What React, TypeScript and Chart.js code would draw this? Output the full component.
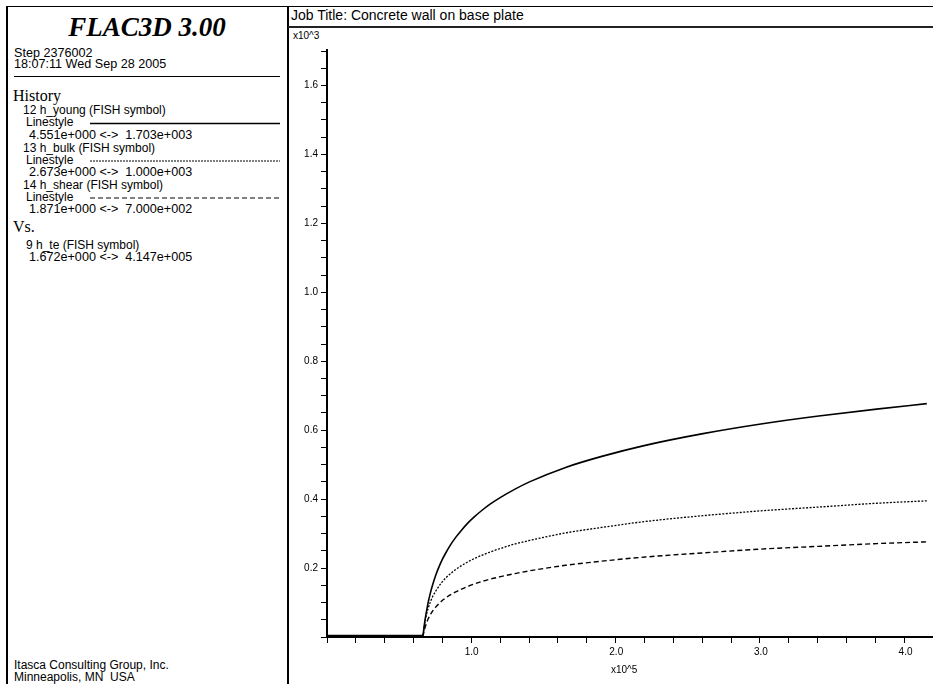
import React, { useEffect, useRef } from "react";
import { Chart, registerables } from "chart.js";

Chart.register(...registerables);

// h_te (x axis, raw units)
const X_VALUES = [1.672, 3.5, 66300, 66800, 67400, 68000, 69000, 70000, 71500, 73000, 75000, 77000, 79500, 82000, 85500, 89000, 93000, 97000, 102000, 107000, 113000, 120000, 130000, 140000, 165000, 190000, 220000, 260000, 300000, 340000, 380000, 414700];
// h_young (solid)
const H_YOUNG = [1703, 4.551, 4.551, 18, 38, 55, 79, 101, 128, 151, 177, 199, 223, 243, 268, 289, 310, 329, 349, 367, 386, 405, 429, 450, 492, 524, 556, 590, 618, 641, 661, 677];
// h_bulk (dotted)
const H_BULK = [1000, 2.673, 2.673, 18, 36, 50, 69, 84, 102, 117, 132, 145, 159, 171, 184, 196, 207, 217, 228, 237, 247, 257, 270, 280, 302, 318, 335, 352, 366, 377, 388, 395];
// h_shear (dashed)
const H_SHEAR = [700, 1.871, 1.871, 11, 21, 30, 43, 53, 65, 75, 86, 95, 105, 113, 123, 131, 139, 146, 154, 161, 168, 175, 184, 192, 208, 220, 232, 244, 255, 263, 271, 276];

// labelled ticks
const X_TICK_VALUES = [100000, 200000, 300000, 400000];
const X_TICK_LABELS = ["1.0", "2.0", "3.0", "4.0"];
const Y_TICK_VALUES = [200, 400, 600, 800, 1000, 1200, 1400, 1600];
const Y_TICK_LABELS = ["0.2", "0.4", "0.6", "0.8", "1.0", "1.2", "1.4", "1.6"];

const SANS = '"Liberation Sans", Arial, sans-serif';
const SERIF = '"Liberation Serif", "Times New Roman", serif';

function T(props: { x: number; c: number; s: number; text: string; serif?: boolean; style?: React.CSSProperties }) {
  const { x, c, s, text, serif, style } = props;
  return (
    <div
      style={{
        position: "absolute",
        left: x,
        top: c - s / 2,
        fontSize: s,
        lineHeight: `${s}px`,
        fontFamily: serif ? SERIF : SANS,
        whiteSpace: "pre",
        color: "#000",
        ...style,
      }}
    >
      {text}
    </div>
  );
}

function labelFor(v: any, values: number[], labels: string[]): string {
  const n = Number(v);
  for (let i = 0; i < values.length; i++) {
    if (Math.abs(n - values[i]) < 1e-6 * Math.max(1, values[i])) return labels[i];
  }
  return "";
}

// draws the x tick labels at the positions given by the library's x scale
const xTickLabelPlugin = {
  id: "xTickLabels",
  afterDraw(chart: any) {
    const s = chart.scales.x;
    const ctx = chart.ctx;
    ctx.save();
    ctx.font = `10px ${SANS}`;
    ctx.fillStyle = "#000";
    ctx.textAlign = "center";
    ctx.textBaseline = "middle";
    X_TICK_VALUES.forEach((v, i) => {
      ctx.fillText(X_TICK_LABELS[i], s.getPixelForValue(v), s.top + 15);
    });
    ctx.restore();
  },
};

export default function App() {
  const ref = useRef<HTMLCanvasElement>(null);

  useEffect(() => {
    const canvas = ref.current;
    if (!canvas) return;
    Chart.defaults.font.family = SANS;
    Chart.defaults.color = "#000";
    const mk = (ys: number[]) => X_VALUES.map((x, i) => ({ x, y: ys[i] }));
    const base = {
      borderColor: "#000",
      backgroundColor: "#000",
      pointRadius: 0,
      fill: false,
      cubicInterpolationMode: "monotone" as const,
    };
    const chart = new Chart(canvas, {
      type: "line",
      data: {
        datasets: [
          { ...base, label: "h_young", data: mk(H_YOUNG), borderWidth: 1.6 },
          { ...base, label: "h_bulk", data: mk(H_BULK), borderWidth: 1.3, borderDash: [2, 1.5] },
          { ...base, label: "h_shear", data: mk(H_SHEAR), borderWidth: 1.4, borderDash: [5, 3] },
        ],
      },
      plugins: [xTickLabelPlugin],
      options: {
        animation: false,
        responsive: false,
        devicePixelRatio: 1,
        layout: { padding: { top: 22, left: 0, right: 0, bottom: 0 } },
        plugins: { legend: { display: false }, tooltip: { enabled: false } },
        scales: {
          x: {
            type: "linear",
            position: "bottom",
            min: 0,
            max: 419000,
            afterFit: (s: any) => {
              s.height = 47;
            },
            border: { display: true, color: "#000", width: 2 },
            grid: { display: true, drawOnChartArea: false, drawTicks: true, tickLength: 6, tickColor: "#000", tickWidth: 1 },
            ticks: {
              display: false,
              stepSize: 20000,
              includeBounds: false,
              autoSkip: false,
              maxTicksLimit: 200,
              maxRotation: 0,
              minRotation: 0,
            },
          },
          y: {
            type: "linear",
            min: 0,
            max: 1703,
            afterFit: (s: any) => {
              s.width = 39;
            },
            border: { display: true, color: "#000", width: 2 },
            grid: { display: true, drawOnChartArea: false, drawTicks: true, tickLength: 6, tickColor: "#000", tickWidth: 1 },
            ticks: {
              stepSize: 50,
              includeBounds: false,
              autoSkip: false,
              maxTicksLimit: 200,
              padding: 3,
              color: "#000",
              font: { size: 10 },
              callback: (v: any) => labelFor(v, Y_TICK_VALUES, Y_TICK_LABELS),
            },
          },
        },
      },
    });
    return () => chart.destroy();
  }, []);

  const NUM = 12.6;

  return (
    <div
      style={{
        position: "absolute",
        left: 0,
        top: 0,
        width: 933,
        height: 684,
        overflow: "hidden",
        background: "#fff",
      }}
    >
      {/* frame */}
      <div style={{ position: "absolute", left: 7, top: 6, width: 926, height: 1, background: "#000" }} />
      <div style={{ position: "absolute", left: 6, top: 6, width: 2, height: 678, background: "#000" }} />
      <div style={{ position: "absolute", left: 287, top: 6, width: 2, height: 678, background: "#000" }} />
      <div style={{ position: "absolute", left: 288, top: 26, width: 645, height: 2, background: "#222" }} />
      <div style={{ position: "absolute", left: 14, top: 76, width: 266, height: 1, background: "#000" }} />

      {/* left panel */}
      <div
        style={{
          position: "absolute",
          left: 7,
          top: 14,
          width: 280,
          textAlign: "center",
          fontFamily: SERIF,
          fontWeight: "bold",
          fontStyle: "italic",
          fontSize: 27,
          lineHeight: "27px",
          color: "#000",
        }}
      >
        FLAC3D 3.00
      </div>
      <T x={14} c={53} s={NUM} text="Step 2376002" />
      <T x={14} c={64} s={NUM} text="18:07:11 Wed Sep 28 2005" />
      <T x={13} c={96} s={16} serif text="History" />
      <T x={23} c={110} s={12} text="12 h_young (FISH symbol)" />
      <T x={26} c={122} s={12} text="Linestyle" />
      <T x={29} c={135} s={NUM} text="4.551e+000 <->  1.703e+003" />
      <T x={23} c={148} s={12} text="13 h_bulk (FISH symbol)" />
      <T x={26} c={160} s={12} text="Linestyle" />
      <T x={29} c={172} s={NUM} text="2.673e+000 <->  1.000e+003" />
      <T x={23} c={185} s={12} text="14 h_shear (FISH symbol)" />
      <T x={26} c={197} s={12} text="Linestyle" />
      <T x={29} c={209} s={NUM} text="1.871e+000 <->  7.000e+002" />
      <T x={13} c={227} s={16} serif text="Vs." />
      <T x={26} c={245} s={12} text="9 h_te (FISH symbol)" />
      <T x={29} c={257} s={NUM} text="1.672e+000 <->  4.147e+005" />
      <T x={14} c={665} s={12} text="Itasca Consulting Group, Inc." />
      <T x={14} c={677} s={12} text="Minneapolis, MN  USA" />

      <svg style={{ position: "absolute", left: 0, top: 0 }} width={287} height={260}>
        <line x1={90} x2={280} y1={123.5} y2={123.5} stroke="#000" strokeWidth={1.5} />
        <line x1={90} x2={280} y1={161} y2={161} stroke="#000" strokeWidth={1} strokeDasharray="2,1" />
        <line x1={90} x2={280} y1={198} y2={198} stroke="#000" strokeWidth={1} strokeDasharray="5,3" />
      </svg>

      {/* right panel */}
      <T x={291} c={15} s={14} text="Job Title: Concrete wall on base plate" />
      <T x={293} c={36} s={10} text="x10^3" />

      <canvas
        ref={ref}
        width={645}
        height={656}
        style={{ position: "absolute", left: 288, top: 28, width: 645, height: 656 }}
      />

      <T x={611} c={670} s={10} text="x10^5" />
    </div>
  );
}
